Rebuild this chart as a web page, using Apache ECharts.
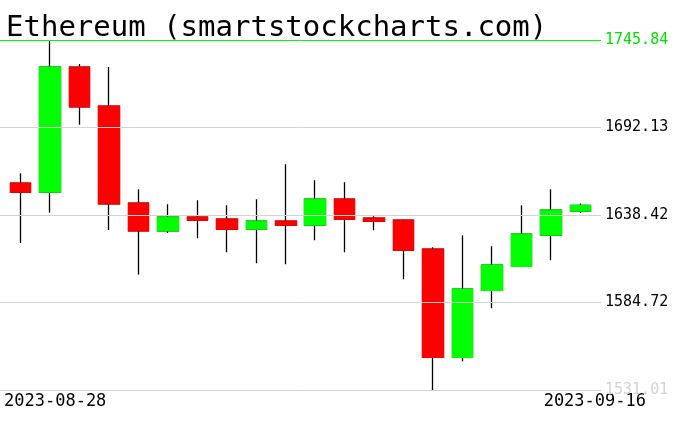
<!DOCTYPE html>
<html><head><meta charset="utf-8">
<script src="https://cdn.jsdelivr.net/npm/echarts@6/dist/echarts.min.js"></script>
<style>html,body{margin:0;padding:0;background:#fff}#c{width:676px;height:431px}</style>
</head><body><div id="c"></div>
<script>
const titleText = 'Ethereum (smartstockcharts.com)';
const dates = ['2023-08-28','2023-08-29','2023-08-30','2023-08-31','2023-09-01','2023-09-02','2023-09-03','2023-09-04','2023-09-05','2023-09-06','2023-09-07','2023-09-08','2023-09-09','2023-09-10','2023-09-11','2023-09-12','2023-09-13','2023-09-14','2023-09-15','2023-09-16'];
const openV  = [1657.97,1652.45,1729.25,1705.29,1645.69,1628.67,1637.08,1635.86,1629.71,1634.63,1632.17,1648.14,1636.47,1635.24,1617.42,1551.06,1592.23,1606.98,1626.02,1640.77];
const closeV = [1652.45,1729.25,1704.86,1645.26,1628.67,1637.08,1635.24,1629.71,1634.63,1632.17,1648.14,1635.86,1634.63,1616.81,1551.06,1592.84,1607.59,1626.64,1641.39,1644.27];
const lowV   = [1621.29,1639.73,1693.80,1629.28,1601.88,1627.44,1624.18,1615.58,1608.82,1608.21,1622.95,1615.58,1629.10,1598.99,1531.01,1548.60,1581.17,1606.37,1610.66,1639.73];
const highV  = [1664.12,1745.84,1731.09,1729.25,1654.29,1645.07,1647.53,1644.46,1648.14,1669.65,1659.82,1658.59,1637.70,1635.86,1618.65,1626.02,1619.27,1644.46,1654.29,1645.50];
const tickValues = [1531.01,1584.72,1638.42,1692.13,1745.84];
const tickLabels = ['1531.01','1584.72','1638.42','1692.13','1745.84'];
const tickColors = ['#d3d3d3','#000000','#000000','#000000','#00e000'];
const lineColors = ['#d3d3d3','#d3d3d3','#d3d3d3','#d3d3d3','#00ff00'];

const UP = '#00ff00', DOWN = '#ff0000';
const full = dates.map((d,i)=>[openV[i],closeV[i],lowV[i],highV[i]]);
const bodies = dates.map((d,i)=>[openV[i],closeV[i],Math.min(openV[i],closeV[i]),Math.max(openV[i],closeV[i])]);
const mono = 'DejaVu Sans Mono';
const yMin = tickValues[0], yMax = tickValues[tickValues.length-1];

const chart = echarts.init(document.getElementById('c'), null, {renderer:'canvas'});
chart.setOption({
  animation:false,
  backgroundColor:'#fff',
  title:{text:titleText,left:1,top:9,textStyle:{fontFamily:mono,fontSize:29,fontWeight:'normal',color:'#000'}},
  grid:[
    {left:6,width:589,top:40,height:350},
    {left:0,width:601,top:40,height:350}
  ],
  xAxis:[
    {type:'category',data:dates,gridIndex:0,show:false,boundaryGap:true},
    {type:'value',gridIndex:1,show:false,min:0,max:1}
  ],
  yAxis:[
    {type:'value',gridIndex:0,min:yMin,max:yMax,show:false,splitLine:{show:false}},
    {type:'value',gridIndex:1,min:yMin,max:yMax,show:false,splitLine:{show:false}}
  ],
  series:[
    {type:'line',xAxisIndex:1,yAxisIndex:1,data:[],silent:true,z:1,
     markLine:{silent:true,symbol:'none',animation:false,
       data:tickValues.map((v,i)=>({yAxis:v,lineStyle:{color:lineColors[i],type:'solid',width:1},
         label:{show:true,position:'end',distance:4,formatter:tickLabels[i],color:tickColors[i],fontFamily:mono,fontSize:15,padding:[0,0,12,0]}}))}},
    {type:'candlestick',name:'wick',xAxisIndex:0,yAxisIndex:0,data:full,barWidth:21,z:2,
     itemStyle:{color:'#000',color0:'#000',borderColor:'#000',borderColor0:'#000',borderWidth:1.3}},
    {type:'candlestick',name:'body',xAxisIndex:0,yAxisIndex:0,data:bodies,barWidth:21,z:3,
     itemStyle:{color:UP,color0:DOWN,borderColor:UP,borderColor0:DOWN,borderWidth:1.3}}
  ],
  graphic:[
    {type:'text',left:4,top:393,style:{text:dates[0],font:'17px "DejaVu Sans Mono"',fill:'#000'}},
    {type:'text',right:30,top:393,style:{text:dates[dates.length-1],font:'17px "DejaVu Sans Mono"',fill:'#000'}}
  ]
});
</script></body></html>
